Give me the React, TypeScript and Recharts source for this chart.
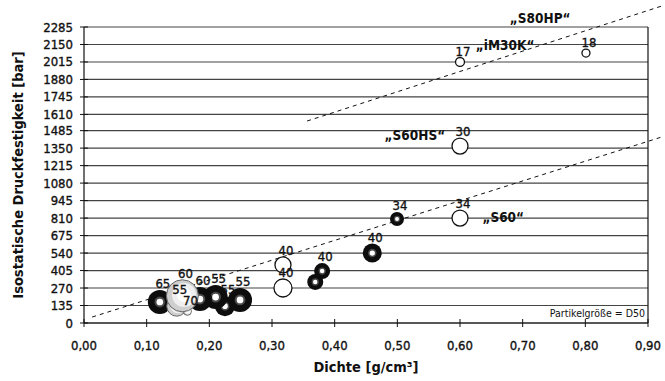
import React from 'react'
import {
  ScatterChart,
  Scatter,
  XAxis,
  YAxis,
  ZAxis,
  CartesianGrid,
  ReferenceLine,
  ReferenceDot,
  LabelList,
} from 'recharts'

const FONT = '"DejaVu Sans Condensed", "DejaVu Sans", sans-serif'
const INK = '#111'

// x = Dichte [g/cm3], y = Druckfestigkeit [bar], z = bubble size, label = D50
const ringPoints = [
  { x: 0.121, y: 162, z: 144, label: '65' },
  { x: 0.225, y: 130, z: 100, label: '55' },
  { x: 0.21, y: 200, z: 144, label: '55' },
  { x: 0.185, y: 185, z: 144, label: '60' },
  { x: 0.249, y: 178, z: 144, label: '55' },
  { x: 0.369, y: 317, z: 64, label: '' },
  { x: 0.38, y: 401, z: 64, label: '40' },
  { x: 0.46, y: 540, z: 90, label: '40' },
  { x: 0.4995, y: 803, z: 49, label: '34' },
]

const lightPoints = [
  { x: 0.148, y: 130, z: 100, label: '55' },
  { x: 0.165, y: 90, z: 16, label: '70' },
  { x: 0.157, y: 210, z: 256, label: '60' },
]

const openPoints = [
  { x: 0.3175, y: 270, z: 81, label: '40' },
  { x: 0.3175, y: 448, z: 64, label: '40' },
  { x: 0.6, y: 810, z: 64, label: '34' },
  { x: 0.6, y: 1366, z: 64, label: '30' },
  { x: 0.6, y: 2015, z: 20, label: '17' },
  { x: 0.801, y: 2084, z: 16, label: '18' },
]

const allPoints = [...ringPoints, ...lightPoints, ...openPoints]

const lowerLine = [{ x: 0.013, y: 46 }, { x: 0.922, y: 1436 }]
const upperLine = [{ x: 0.356, y: 1559 }, { x: 0.922, y: 2447 }]

const annotations = [
  { x: 0.728, y: 2355, text: '„S80HP“' },
  { x: 0.672, y: 2146, text: '„iM30K“' },
  { x: 0.528, y: 1451, text: '„S60HS“' },
  { x: 0.669, y: 818, text: '„S60“' },
]

const xTicks = [0, 0.1, 0.2, 0.3, 0.4, 0.5, 0.6, 0.7, 0.8, 0.9]
const yTicks = [0, 135, 270, 405, 540, 675, 810, 945, 1080, 1215, 1350, 1485, 1610, 1745, 1880, 2015, 2150, 2285]

const radiusOf = (p: any) => (p.width ? p.width / 2 : Math.sqrt((p.size ?? 64) / Math.PI))

const RingBubble = (p: any) => {
  const r = radiusOf(p)
  return (
    <g>
      <circle cx={p.cx} cy={p.cy} r={r} fill="#0d0d0d" />
      <circle cx={p.cx} cy={p.cy} r={r * 0.45} fill="#888" opacity={0.5} />
      <circle cx={p.cx} cy={p.cy} r={r * 0.28} fill="#fff" />
    </g>
  )
}

const LightBubble = (p: any) => {
  const r = radiusOf(p)
  return (
    <g>
      <circle cx={p.cx} cy={p.cy} r={r} fill="#cfcfcf" stroke="#666" strokeWidth={1} />
      <circle cx={p.cx + r * 0.1} cy={p.cy - r * 0.05} r={r * 0.75} fill="#efefef" />
      <circle cx={p.cx + r * 0.1} cy={p.cy - r * 0.05} r={r * 0.45} fill="#fff" />
    </g>
  )
}

const OpenBubble = (p: any) => {
  const r = radiusOf(p)
  return <circle cx={p.cx} cy={p.cy} r={r} fill="#fff" stroke={INK} strokeWidth={1.3} />
}

const NoShape = () => <g />

const txt = { fontFamily: FONT, fill: INK, stroke: INK, strokeWidth: 0.35 }

const BubbleLabel = (props: any) => {
  const vb = props.viewBox ?? props
  if (!props.value) return null
  const r = vb.width / 2
  const cx = vb.x + r
  const cy = vb.y + r
  return (
    <text x={cx + 3} y={cy - r - 2} textAnchor="middle" fontSize={13} {...txt}>
      {props.value}
    </text>
  )
}

const XTick = ({ x, y, payload }: any) => (
  <g>
    <line x1={x} x2={x} y1={y - 4} y2={y + 4} stroke={INK} />
    <text x={x} y={y + 27} textAnchor="middle" fontSize={13} {...txt}>
      {Number(payload.value).toFixed(2).replace('.', ',')}
    </text>
  </g>
)

const YTick = ({ x, y, payload }: any) => (
  <g>
    <line x1={x - 4} x2={x + 4} y1={y} y2={y} stroke={INK} />
    <text x={x - 11} y={y + 4.5} textAnchor="end" fontSize={13} {...txt}>
      {payload.value}
    </text>
  </g>
)

const YTitle = ({ viewBox }: any) => {
  const cx = viewBox.x + 18
  const cy = viewBox.y + viewBox.height / 2
  return (
    <text x={cx} y={cy} transform={`rotate(-90 ${cx} ${cy})`} textAnchor="middle" dominantBaseline="central"
      fontFamily={FONT} fontSize={14.5} fontWeight="bold" fill={INK}>
      Isostatische Druckfestigkeit [bar]
    </text>
  )
}

const XTitle = ({ viewBox }: any) => (
  <text x={viewBox.x + viewBox.width / 2} y={viewBox.y + 49} textAnchor="middle"
    fontFamily={FONT} fontSize={14.5} fontWeight="bold" fill={INK}>
    Dichte [g/cm³]
  </text>
)

export default function App() {
  return (
    <div style={{ position: 'absolute', left: 0, top: 0, width: 665, height: 381, background: '#fff' }}>
      <ScatterChart width={665} height={381} margin={{ top: 27, right: 17, bottom: 0, left: 0 }}>
        <CartesianGrid vertical={false} stroke="#444" strokeWidth={1.2} />
        <XAxis type="number" dataKey="x" domain={[0, 0.9]} ticks={xTicks} interval={0} height={58}
          tick={<XTick />} tickLine={false} tickSize={0} tickMargin={0} axisLine={{ stroke: INK, strokeWidth: 1.2 }}
          label={{ content: XTitle }} />
        <YAxis type="number" dataKey="y" domain={[0, 2285]} ticks={yTicks} interval={0} width={84}
          tick={<YTick />} tickLine={false} tickSize={0} tickMargin={0} axisLine={{ stroke: INK, strokeWidth: 1.2 }}
          label={{ content: YTitle }} />
        <ZAxis type="number" dataKey="z" domain={[0, 400]} range={[0, 400 * Math.PI]} />
        <ReferenceLine x={0.9} stroke={INK} strokeWidth={1.2} />
        <ReferenceLine segment={lowerLine} stroke={INK} strokeDasharray="4 4" ifOverflow="visible" />
        <ReferenceLine segment={upperLine} stroke={INK} strokeDasharray="4 4" ifOverflow="visible" />
        <Scatter data={ringPoints} shape={RingBubble} isAnimationActive={false} />
        <Scatter data={lightPoints} shape={LightBubble} isAnimationActive={false} />
        <Scatter data={openPoints} shape={OpenBubble} isAnimationActive={false} />
        <Scatter data={allPoints} shape={NoShape} isAnimationActive={false}>
          <LabelList dataKey="label" content={BubbleLabel} />
        </Scatter>
        {annotations.map(a => (
          <ReferenceDot key={a.text} x={a.x} y={a.y} r={0} ifOverflow="visible"
            shape={(p: any) => (
              <text x={p.cx} y={p.cy + 5} textAnchor="middle" fontFamily={FONT} fontSize={13.5} fontWeight="bold" fill={INK}>
                {a.text}
              </text>
            )} />
        ))}
        <ReferenceDot x={0.9} y={77} r={0} ifOverflow="visible"
          shape={(p: any) => (
            <text x={p.cx - 3} y={p.cy + 4} textAnchor="end" fontFamily={FONT} fontSize={10.5} fill={INK}>
              Partikelgröße = D50
            </text>
          )} />
      </ScatterChart>
    </div>
  )
}
